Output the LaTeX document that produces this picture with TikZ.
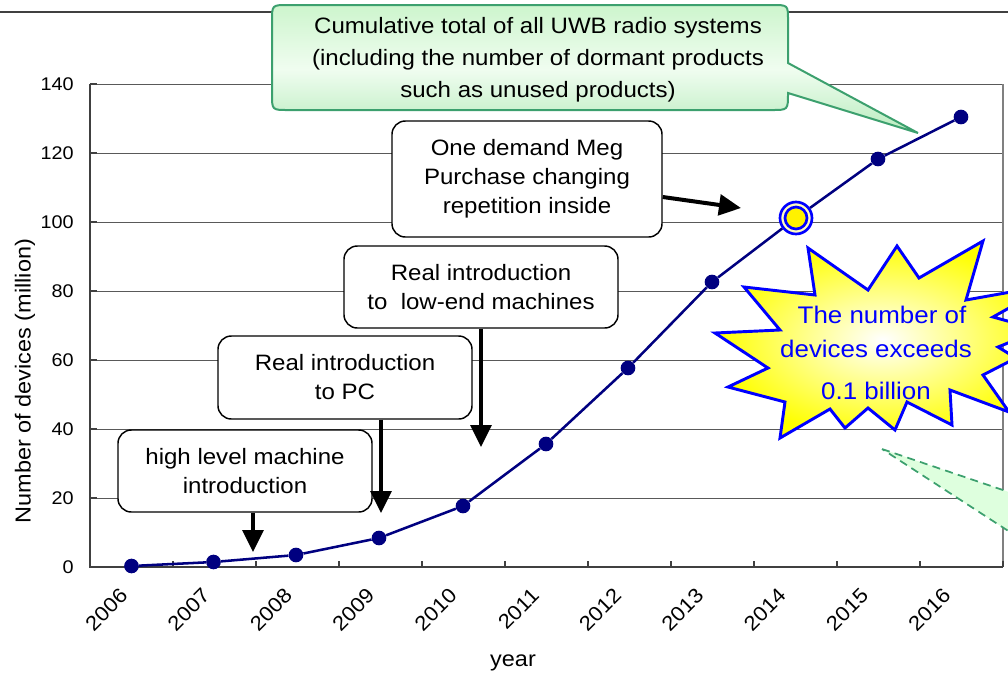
\documentclass[tikz,border=0pt]{standalone}
\usepackage{fontspec}
\setmainfont{Liberation Sans}[FakeStretch=1.08]
\usetikzlibrary{arrows.meta,calc}
\definecolor{navy}{RGB}{0,0,128}
\definecolor{bblue}{RGB}{0,0,255}
\definecolor{cgreen}{RGB}{60,160,110}
\definecolor{cfillA}{RGB}{205,245,205}
\definecolor{cfillB}{RGB}{240,253,240}
\definecolor{cfillC}{RGB}{185,236,190}
\definecolor{tailfill}{RGB}{222,255,222}
\begin{document}
\begin{tikzpicture}[x=0.75pt,y=-0.75pt,
  gridline/.style={draw=black!65, line width=0.75pt},
  axisline/.style={draw=black!75, line width=1.5pt},
  ticklabel/.style={font=\fontsize{13.75}{16}\selectfont, inner sep=0pt, anchor=east},
  yearlabel/.style={font=\fontsize{15.4}{18}\selectfont, inner sep=0pt, rotate=45, anchor=east},
  axistitle/.style={font=\fontsize{16.3}{20}\selectfont, inner sep=0pt},
  boxnode/.style={draw=black, line width=1.1pt, rounded corners=10pt, fill=white, align=center, inner sep=0pt, font=\fontsize{16.7}{21.75}\selectfont},
  bigarrow/.style={line width=3pt, -{Triangle[length=16.5pt,width=15.5pt]}},
  datadot/.style={circle, fill=navy, inner sep=0pt, minimum size=11pt},
  dataline/.style={draw=navy, line width=1.9pt},
  bursttext/.style={text=bblue, font=\fontsize{18}{22}\selectfont, anchor=base, inner sep=0pt},
]
\useasboundingbox (0,0) rectangle (1008,683);
\clip (0,0) rectangle (1008,683);
\fill[white] (0,0) rectangle (1008,683);

% top border line
\draw[draw=black!75, line width=1.1pt] (0,12) -- (1008,12);

% grid and y tick labels
\foreach \yy/\lab in {84/140,153/120,222/100,291/80,360/60,429/40,498/20}{
  \draw[gridline] (90,\yy) -- (1003,\yy);
  \draw[axisline, line width=1pt] (90,\yy) -- (97,\yy);
  \node[ticklabel] at (74,\yy) {\lab};
}
\node[ticklabel] (y0) at (74,567) {0};
% axes
\draw[axisline] (90,84) -- (90,567) -- (1003,567);
\draw[draw=black!50, line width=1.2pt] (1003,84) -- (1003,567);
\foreach \k in {0,...,11}{
  \draw[axisline, line width=1pt] ({90+83*\k},567) -- ({90+83*\k},561);
}
% year labels
\foreach \k in {0,...,10}{
  \pgfmathtruncatemacro{\yr}{2006+\k}
  \node[yearlabel] at ({124+82.3*\k},592) {\yr};
}
\node[axistitle] (xtitle) at (513,663) {year};
\node[axistitle, rotate=90] (ytitle) at (25,381) {Number of devices (million)};

% data
\node[datadot] (d0) at (131.5,566) {};
\node[datadot] (d1) at (213.5,562) {};
\node[datadot] (d2) at (296,555) {};
\node[datadot] (d3) at (379,538) {};
\node[datadot] (d4) at (463,506) {};
\node[datadot] (d5) at (546,444) {};
\node[datadot] (d6) at (628,368) {};
\node[datadot] (d7) at (712,282) {};
\node[circle, draw=bblue, line width=2pt, fill=yellow!25, minimum size=24pt, inner sep=0pt] (d8) at (796,218) {};
\node[circle, draw=bblue, line width=2pt, fill=yellow, minimum size=16.5pt, inner sep=0pt] (d8in) at (796,218) {};
\node[datadot] (d9) at (878,159) {};
\node[datadot] (d10) at (961,117) {};
\draw[dataline] (d0) -- (d1) -- (d2) -- (d3) -- (d4) -- (d5) -- (d6) -- (d7) -- (d8) -- (d9) -- (d10);

% boxes
\node[boxnode, minimum width=202.5pt, minimum height=87pt] (b1) at (527,179) {One demand Meg\\Purchase changing\\repetition inside};
\node[boxnode, minimum width=205.5pt, minimum height=61.5pt] (b2) at (481,287) {Real introduction\\to~ low-end machines};
\node[boxnode, minimum width=190.5pt, minimum height=62.25pt] (b3) at (345,377.5) {Real introduction\\to PC};
\node[boxnode, minimum width=190.5pt, minimum height=61.5pt] (b4) at (245,471) {high level machine\\introduction};

\coordinate (t1) at (741,208);
\coordinate (t2) at (481,447);
\coordinate (t3) at (381,513);
\coordinate (t4) at (253,552);
\draw[bigarrow] ([yshift=-13.5pt]b1.east) -- (t1);
\draw[bigarrow] (b2.south -| t2) -- (t2);
\draw[bigarrow] (b3.south -| t3) -- (t3);
\draw[bigarrow] (b4.south -| t4) -- (t4);

% callout
\path[draw=cgreen, line width=1.5pt, top color=cfillA, bottom color=cfillC, middle color=cfillB]
  (288,5) -- (772,5) .. controls (788,5) .. (788,20) -- (788,63) -- (918,133) -- (788,93)
  .. controls (788,110) .. (772,110) -- (288,110) .. controls (272,110) .. (272,94)
  -- (272,21) .. controls (272,5) .. (288,5) -- cycle;
\node[align=center, inner sep=0pt, font=\fontsize{16.7}{24}\selectfont] (calltext) at (538,60)
  {Cumulative total of all UWB radio systems\\(including the number of dormant products\\such as unused products)};

% starburst
\path[draw=bblue, line width=2.2pt, inner color=white, outer color=yellow]
  (808,248) -- (868,290) -- (897,246) -- (919,278) -- (983,241) -- (966,300) -- (1050,285)
  -- (993,317) -- (1040,330) -- (998,347) -- (1016,358) -- (983,375) -- (1009,412)
  -- (950,390) -- (952,425) -- (907,402) -- (895,430) -- (868,408) -- (845,428)
  -- (830,409) -- (780,438) -- (785,402) -- (728,387) -- (768,368) -- (715,333)
  -- (780,330) -- (744,287) -- (815,295) -- cycle;
\node[bursttext] (bt1) at (882,323) {The number of};
\node[bursttext] (bt2) at (876,357) {devices exceeds};
\node[bursttext] (bt3) at (876,399) {0.1 billion};

% dashed green tail of an off-picture callout
\path[fill=tailfill, draw=cgreen, dash pattern=on 6pt off 4pt, line width=1.3pt]
  (882,449) -- (1050,506) -- (1050,558) -- cycle;
\end{tikzpicture}
\end{document}
